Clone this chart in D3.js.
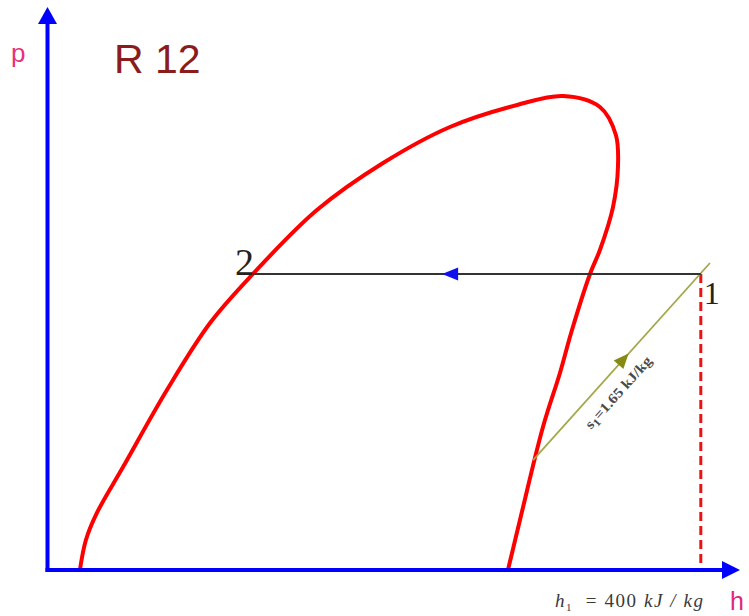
<!DOCTYPE html>
<html><head><meta charset="utf-8">
<script src="https://cdn.jsdelivr.net/npm/d3@7"></script>
<style>html,body{margin:0;padding:0;background:#fff;} svg{display:block;}</style>
</head><body><svg id="chart" width="749" height="616"></svg>
<script>
// Saturation dome of R12 (h in kJ/kg, p in bar)
const domeH = [162.4,164.7,168.9,178.9,195.7,212.2,228.6,253.1,278.4,304.0,329.7,347.3,361.4,367.5,368.3,366.4,361.4,357.6,350.7,346.1,339.6,330.8,326.2];
const domeP = [0,2.40,4.56,8.23,14.39,19.74,23.66,28.77,32.53,35.41,37.17,37.89,37.01,34.77,32.21,29.01,25.58,23.66,19.18,15.75,11.43,4.00,0];
// State points
const stateLabels = ["1","2"];
const stateH = [400, 228.6];
const stateP = [23.66, 23.66];
// Isentrope s1 = 1.65 kJ/kg
const isentropeH = [335.8, 403.5];
const isentropeP = [8.79, 24.54];
const processArrowH = 301;
const h1Value = 400;
const s1Value = 1.65;
const refrigerant = "R 12";

const svg = d3.select("#chart");
const x = d3.scaleLinear().domain([150, 415]).range([47.5, 740]);
const y = d3.scaleLinear().domain([0, 45]).range([570, 7]);

// Dome
const dome = domeH.map((h, i) => [h, domeP[i]]);
svg.append("path")
  .datum(dome)
  .attr("d", d3.line().x(d => x(d[0])).y(d => y(d[1])).curve(d3.curveCatmullRom.alpha(0.5)))
  .attr("fill", "none").attr("stroke", "#ff0000").attr("stroke-width", 4)
  .attr("stroke-linecap", "round");

// Red dashed vertical at h1
svg.append("line")
  .attr("x1", x(stateH[0])).attr("x2", x(stateH[0]))
  .attr("y1", y(stateP[0])).attr("y2", y(0))
  .attr("stroke", "#ee1111").attr("stroke-width", 3).attr("stroke-dasharray", "9,5");

// Isentrope
const ix1 = x(isentropeH[0]), iy1 = y(isentropeP[0]), ix2 = x(isentropeH[1]), iy2 = y(isentropeP[1]);
svg.append("line")
  .attr("x1", ix1).attr("y1", iy1).attr("x2", ix2).attr("y2", iy2)
  .attr("stroke", "#a3a84a").attr("stroke-width", 1.8);
const ang = Math.atan2(iy2 - iy1, ix2 - ix1) * 180 / Math.PI;
const fA = 0.54;
svg.append("path")
  .attr("d", "M0,0 L-15,-6.5 L-15,6.5 Z")
  .attr("transform", `translate(${ix1 + (ix2 - ix1) * fA},${iy1 + (iy2 - iy1) * fA}) rotate(${ang})`)
  .attr("fill", "#868a12");
const fT = 0.405;
const sLab = svg.append("text")
  .attr("transform", `translate(${ix1 + (ix2 - ix1) * fT},${iy1 + (iy2 - iy1) * fT}) rotate(${ang})`)
  .attr("x", 0).attr("y", 23)
  .attr("text-anchor", "middle")
  .attr("font-family", "Liberation Serif").attr("font-weight", "bold")
  .attr("font-size", 14).attr("fill", "#4a4a4a")
  .attr("textLength", 92).attr("lengthAdjust", "spacingAndGlyphs");
sLab.append("tspan").text("s");
sLab.append("tspan").attr("dy", 3).attr("font-size", 11).text("1");
sLab.append("tspan").attr("dy", -3).text("=" + s1Value.toFixed(2) + " kJ/kg");

// Horizontal process line 1 -> 2
svg.append("line")
  .attr("x1", x(stateH[1])).attr("x2", x(stateH[0]))
  .attr("y1", y(stateP[1])).attr("y2", y(stateP[0]))
  .attr("stroke", "#333").attr("stroke-width", 2);
svg.append("path")
  .attr("d", "M0,0 L16,-6.5 L16,6.5 Z")
  .attr("transform", `translate(${x(processArrowH)},${y(stateP[0])})`)
  .attr("fill", "#1010ee");

// State labels
svg.append("text").attr("x", x(stateH[0]) + 3).attr("y", y(stateP[0]) + 30)
  .attr("font-family", "Liberation Serif").attr("font-size", 32).attr("fill", "#222").text(stateLabels[0]);
svg.append("text").attr("x", x(stateH[1]) - 18).attr("y", y(stateP[1]) + 1)
  .attr("font-family", "Liberation Serif").attr("font-size", 38).attr("fill", "#222").text(stateLabels[1]);

// Axes
const x0 = x.range()[0], y0 = y.range()[0];
svg.append("line").attr("x1", x0).attr("x2", x0).attr("y1", y0 + 2).attr("y2", y.range()[1] + 14)
  .attr("stroke", "#0000ff").attr("stroke-width", 4);
svg.append("path").attr("d", `M${x0},${y.range()[1]} L${x0 - 9.5},${y.range()[1] + 17} L${x0 + 9.5},${y.range()[1] + 17} Z`).attr("fill", "#0000ff");
svg.append("line").attr("x1", x0 - 2).attr("x2", x.range()[1] - 14).attr("y1", y0).attr("y2", y0)
  .attr("stroke", "#0000ff").attr("stroke-width", 4);
svg.append("path").attr("d", `M${x.range()[1]},${y0} L${x.range()[1] - 18},${y0 - 9} L${x.range()[1] - 18},${y0 + 9} Z`).attr("fill", "#0000ff");

// Axis labels
svg.append("text").attr("x", 11).attr("y", 62)
  .attr("font-family", "Liberation Sans").attr("font-size", 26).attr("fill", "#e8307c").text("p");
svg.append("text").attr("x", 730).attr("y", 610)
  .attr("font-family", "Liberation Sans").attr("font-size", 25).attr("fill", "#e0287a").text("h");

// Title
svg.append("text").attr("x", 114).attr("y", 73)
  .attr("font-family", "Liberation Sans").attr("font-size", 41).attr("fill", "#8b1c1c").text(refrigerant);

// h1 label
const hLab = svg.append("text").attr("x", 555).attr("y", 607)
  .attr("font-family", "Liberation Serif").attr("font-size", 19).attr("fill", "#3a3a3a")
  .attr("textLength", 148).attr("lengthAdjust", "spacing");
hLab.append("tspan").attr("font-style", "italic").text("h");
hLab.append("tspan").attr("dy", 4).attr("font-size", 11).text("1");
hLab.append("tspan").attr("dy", -4).text("\u00a0\u00a0=\u00a0" + h1Value + "\u00a0");
hLab.append("tspan").attr("font-style", "italic").text("kJ / kg");
</script></body></html>
